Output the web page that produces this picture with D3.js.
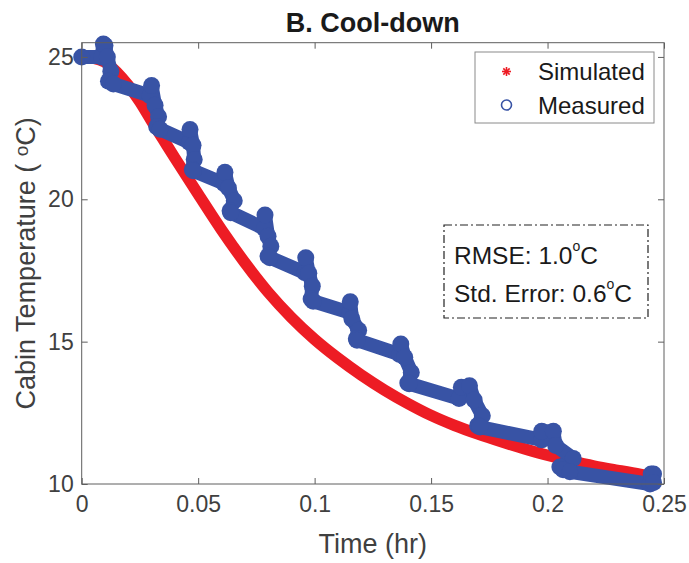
<!DOCTYPE html>
<html>
<head>
<meta charset="utf-8">
<script src="https://cdn.jsdelivr.net/npm/d3@7"></script>
<style>
  body { margin: 0; background: #fff; }
  text { font-family: "Liberation Sans", Arial, sans-serif; }
</style>
</head>
<body>
<div id="chart"></div>
<script>
// chart size
const width = 689;
const height = 563;
const margin = { left: 81.7, right: 25, top: 42.7, bottom: 79 };

// simulated cabin temperature (red)
const simTime = [0, 0.005, 0.010, 0.015, 0.020, 0.025, 0.030, 0.035, 0.040, 0.050,
  0.060, 0.070, 0.080, 0.090, 0.100, 0.110, 0.120, 0.130, 0.140, 0.150,
  0.160, 0.170, 0.180, 0.190, 0.200, 0.210, 0.220, 0.230, 0.240, 0.246];
const simTemp = [25.0, 24.96, 24.82, 24.47, 24.0, 23.42, 22.75, 22.1, 21.45, 20.18,
  18.93, 17.78, 16.74, 15.85, 15.08, 14.42, 13.83, 13.3, 12.83, 12.41,
  12.06, 11.76, 11.49, 11.24, 11.01, 10.81, 10.63, 10.48, 10.34, 10.27];

// measured cabin temperature (blue)
const measTime = [0, 0.0085, 0.0093, 0.0100, 0.0110, 0.0125, 0.0115, 0.0136,
  0.0293, 0.0300, 0.0315, 0.0330, 0.0322, 0.0336,
  0.0462, 0.0465, 0.0478, 0.0483, 0.0475, 0.0479,
  0.0612, 0.0615, 0.0630, 0.0655, 0.0637, 0.0640,
  0.0785, 0.0787, 0.0800, 0.0812, 0.0800, 0.0808,
  0.0958, 0.0962, 0.0975, 0.0990, 0.0985, 0.0994,
  0.1151, 0.1153, 0.1160, 0.1189, 0.1179, 0.1182,
  0.1365, 0.1370, 0.1387, 0.1415, 0.1400, 0.1406,
  0.1620, 0.1630, 0.1665, 0.1685, 0.1720, 0.1700, 0.1710,
  0.1975, 0.1975, 0.2025, 0.2035, 0.2110, 0.2053, 0.2067, 0.2096,
  0.2440, 0.2445, 0.2455, 0.2455];
const measTemp = [25.0, 25.0, 25.45, 25.4, 25.0, 24.5, 24.15, 24.05,
  23.64, 24.0, 23.3, 22.9, 22.55, 22.46,
  22.0, 22.45, 21.9, 21.4, 21.05, 21.0,
  20.55, 20.95, 20.4, 19.95, 19.6, 19.53,
  18.97, 19.45, 18.7, 18.35, 18.0, 17.95,
  17.42, 17.95, 17.4, 16.95, 16.5, 16.42,
  16.02, 16.4, 15.8, 15.4, 15.1, 15.05,
  14.55, 14.92, 14.45, 13.92, 13.55, 13.52,
  13.0, 13.4, 13.45, 12.95, 12.4, 12.05, 12.0,
  11.55, 11.85, 11.85, 11.35, 10.9, 10.6, 10.5, 10.43,
  10.0, 10.35, 10.35, 10.05];

const xTicks = [0, 0.05, 0.1, 0.15, 0.2, 0.25];
const xTickLabels = ['0', '0.05', '0.1', '0.15', '0.2', '0.25'];
const yTicks = [10, 15, 20, 25];

const red = '#ed1c24';
const blue = '#3853a5';
const axisColor = '#5e5e5e';
const labelColor = '#404040';

const svg = d3.select('#chart')
  .append('svg')
  .attr('width', width)
  .attr('height', height);

const x = d3.scaleLinear().domain([0, 0.25]).range([margin.left, width - margin.right]);
const y = d3.scaleLinear().domain([10, 25.5]).range([height - margin.bottom, margin.top]);

// curves
const simPoints = simTime.map((t, i) => [t, simTemp[i]]);
const measPoints = measTime.map((t, i) => [t, measTemp[i]]);
const line = d3.line().x((d) => x(d[0])).y((d) => y(d[1]));
const smoothLine = d3.line().curve(d3.curveMonotoneX).x((d) => x(d[0])).y((d) => y(d[1]));

svg.append('path')
  .attr('d', smoothLine(simPoints))
  .attr('fill', 'none')
  .attr('stroke', red)
  .attr('stroke-width', 11.5)
  .attr('stroke-linecap', 'round')
  .attr('stroke-linejoin', 'round');

svg.append('path')
  .attr('d', line(measPoints))
  .attr('fill', 'none')
  .attr('stroke', blue)
  .attr('stroke-width', 14)
  .attr('stroke-linecap', 'round')
  .attr('stroke-linejoin', 'round');

svg.append('g').selectAll('circle')
  .data(measPoints)
  .enter().append('circle')
  .attr('cx', (d) => x(d[0]))
  .attr('cy', (d) => y(d[1]))
  .attr('r', 8.5)
  .attr('fill', blue);

// axes box with inward ticks on all four sides
const x0 = x.range()[0], x1 = x.range()[1];
const y0 = y.range()[0], y1 = y.range()[1];
const tickLen = 6;

svg.append('rect')
  .attr('x', x0).attr('y', y1)
  .attr('width', x1 - x0).attr('height', y0 - y1)
  .attr('fill', 'none')
  .attr('stroke', axisColor)
  .attr('stroke-width', 1);

const xAxisBottom = d3.axisBottom(x).tickValues(xTicks).tickSize(-tickLen).tickFormat((d, i) => xTickLabels[i]).tickPadding(12);
const xAxisTop = d3.axisTop(x).tickValues(xTicks).tickSize(-tickLen).tickFormat('');
const yAxisLeft = d3.axisLeft(y).tickValues(yTicks).tickSize(-tickLen).tickPadding(8);
const yAxisRight = d3.axisRight(y).tickValues(yTicks).tickSize(-tickLen).tickFormat('');

function styleAxis(g) {
  g.select('.domain').remove();
  g.selectAll('.tick line').attr('stroke', axisColor);
  g.selectAll('.tick text')
    .attr('fill', labelColor)
    .style('font-size', '23px')
    .style('font-family', '"Liberation Sans", Arial, sans-serif');
}

svg.append('g').attr('transform', `translate(0,${y0})`).call(xAxisBottom).call(styleAxis);
svg.append('g').attr('transform', `translate(0,${y1})`).call(xAxisTop).call(styleAxis);
svg.append('g').attr('transform', `translate(${x0},0)`).call(yAxisLeft).call(styleAxis);
svg.append('g').attr('transform', `translate(${x1},0)`).call(yAxisRight).call(styleAxis);

// title and axis labels
svg.append('text')
  .attr('x', (x0 + x1) / 2)
  .attr('y', 31.5)
  .attr('text-anchor', 'middle')
  .attr('font-weight', 'bold')
  .attr('font-size', 27)
  .attr('fill', '#1a1a1a')
  .text('B. Cool-down');

svg.append('text')
  .attr('x', (x0 + x1) / 2)
  .attr('y', 553)
  .attr('text-anchor', 'middle')
  .attr('font-size', 27)
  .attr('fill', labelColor)
  .text('Time (hr)');

const yLabel = svg.append('text')
  .attr('transform', `translate(35,${(y0 + y1) / 2}) rotate(-90)`)
  .attr('text-anchor', 'middle')
  .attr('font-size', 27)
  .attr('fill', labelColor);
yLabel.append('tspan').text('Cabin Temperature ( ');
yLabel.append('tspan').attr('font-size', 19).attr('dy', -7).text('o');
yLabel.append('tspan').attr('dy', 7).text('C)');

// legend
const legend = svg.append('g');
legend.append('rect')
  .attr('x', 475).attr('y', 52)
  .attr('width', 179).attr('height', 71)
  .attr('fill', '#fff')
  .attr('stroke', '#8a8a8a')
  .attr('stroke-width', 1);

const star = legend.append('g')
  .attr('transform', 'translate(506.5,71.5)')
  .attr('stroke', red)
  .attr('stroke-width', 1.6);
[0, 45, 90, 135].forEach((a) => {
  star.append('line')
    .attr('x1', -4.5).attr('x2', 4.5)
    .attr('transform', `rotate(${a})`);
});

legend.append('circle')
  .attr('cx', 506.5).attr('cy', 105)
  .attr('r', 5)
  .attr('fill', 'none')
  .attr('stroke', blue)
  .attr('stroke-width', 1.6);

legend.append('text')
  .attr('x', 538).attr('y', 80)
  .attr('font-size', 24)
  .attr('fill', '#1a1a1a')
  .text('Simulated');
legend.append('text')
  .attr('x', 538).attr('y', 114)
  .attr('font-size', 24)
  .attr('fill', '#1a1a1a')
  .text('Measured');

// error annotation box
const note = svg.append('g');
note.append('rect')
  .attr('x', 444).attr('y', 225)
  .attr('width', 204).attr('height', 93)
  .attr('fill', 'none')
  .attr('stroke', '#222')
  .attr('stroke-width', 1.2)
  .attr('stroke-dasharray', '8,3,2,3');

const noteLines = [
  { y: 264, label: 'RMSE: 1.0' },
  { y: 302, label: 'Std. Error: 0.6' }
];
noteLines.forEach((l) => {
  const t = note.append('text')
    .attr('x', 454).attr('y', l.y)
    .attr('font-size', 24.5)
    .attr('fill', '#1a1a1a');
  t.append('tspan').text(l.label);
  t.append('tspan').attr('font-size', 14).attr('dy', -13).text('o');
  t.append('tspan').attr('dy', 13).text('C');
});
</script>
</body>
</html>
